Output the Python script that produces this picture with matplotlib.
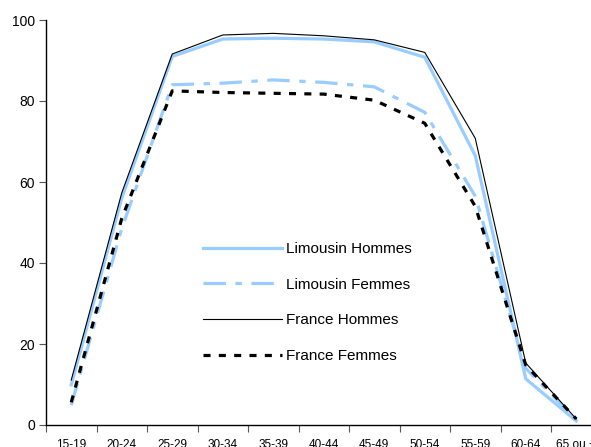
import matplotlib
matplotlib.use("Agg")
import matplotlib.pyplot as plt
from matplotlib import font_manager

plt.rcParams['font.family'] = ['Liberation Sans', 'DejaVu Sans']
names = {f.name for f in font_manager.fontManager.ttflist}
narrow = 'Liberation Sans Narrow' if 'Liberation Sans Narrow' in names else None

categories = ["15-19", "20-24", "25-29", "30-34", "35-39", "40-44",
              "45-49", "50-54", "55-59", "60-64", "65 ou +"]
limousin_hommes = [9.9, 56.0, 91.0, 95.3, 95.5, 95.3, 94.6, 90.8, 66.5, 11.4, 1.0]
limousin_femmes = [4.9, 48.5, 84.0, 84.4, 85.2, 84.6, 83.5, 77.2, 56.5, 14.0, 1.3]
france_hommes = [11.1, 57.3, 91.6, 96.3, 96.7, 96.1, 95.1, 92.0, 70.8, 15.3, 1.5]
france_femmes = [5.6, 51.0, 82.5, 82.1, 81.9, 81.7, 80.2, 74.5, 54.0, 14.8, 1.5]
yticks = [0, 20, 40, 60, 80, 100]

W, H = 591, 447
fig = plt.figure(figsize=(W / 100, H / 100), dpi=100)
left, right, top, bottom = 46, 46 + 11 * 50.5, 20, 425
ax = fig.add_axes([left / W, (H - bottom) / H, (right - left) / W, (bottom - top) / H])

x = list(range(len(categories)))
blue = "#99CCFF"
ax.plot(x, limousin_hommes, color=blue, lw=2.3, label="Limousin Hommes")
ax.plot(x, limousin_femmes, color=blue, lw=2.3, dashes=(7, 3, 2, 3), label="Limousin Femmes")
ax.plot(x, france_hommes, color="black", lw=0.8, label="France Hommes")
ax.plot(x, france_femmes, color="black", lw=2.3, dashes=(2.2, 2.6), label="France Femmes")

ax.set_xlim(-0.5, len(categories) - 0.5)
ax.set_ylim(0, 100)
ax.set_yticks(yticks)
ax.set_xticks([i - 0.5 for i in range(len(categories) + 1)])
ax.set_xticklabels([])
ax.set_xticks(x, minor=True)
if narrow:
    ax.set_xticklabels(categories, minor=True, fontsize=9.5, family=narrow)
    for t in ax.get_yticklabels():
        t.set_family(narrow)
    ysize = 11
else:
    ax.set_xticklabels(categories, minor=True, fontsize=8.5)
    ysize = 10
ax.tick_params(axis='x', which='minor', length=0, pad=10)
ax.tick_params(axis='x', which='major', length=5, direction='out', color='#555555')
ax.tick_params(axis='y', length=5, direction='out', color='#555555', labelsize=ysize, pad=3)

for s in ['top', 'right']:
    ax.spines[s].set_visible(False)
ax.spines['left'].set_linewidth(1.0)
ax.spines['bottom'].set_linewidth(1.0)

leg = ax.legend(loc='upper left', bbox_to_anchor=(203 / W, 1 - 242 / H),
                bbox_transform=fig.transFigure, frameon=False, fontsize=11,
                handlelength=5.2, handletextpad=0.25, labelspacing=1.42,
                borderaxespad=0, borderpad=0)

fig.savefig("out.png", dpi=100)
